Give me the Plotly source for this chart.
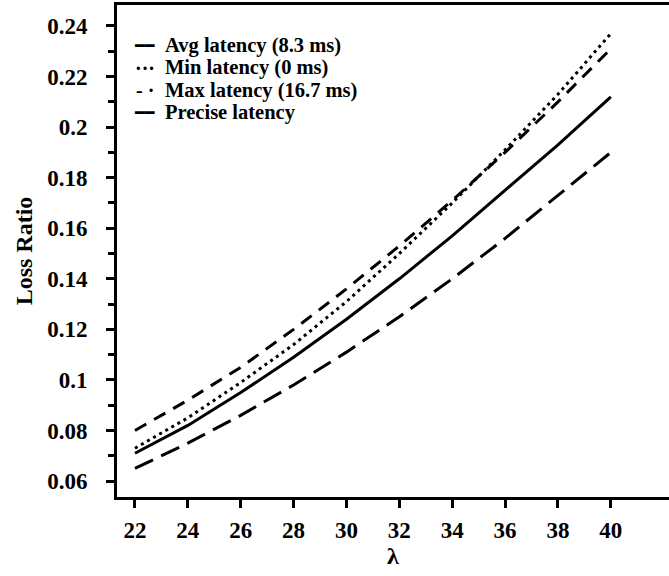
import plotly.graph_objects as go

lam = [22, 24, 26, 28, 30, 32, 34, 36, 38, 40]
avg_latency = [0.071, 0.082, 0.095, 0.109, 0.124, 0.140, 0.157, 0.175, 0.193, 0.212]
min_latency = [0.073, 0.085, 0.099, 0.114, 0.131, 0.150, 0.170, 0.191, 0.213, 0.237]
max_latency = [0.080, 0.092, 0.105, 0.120, 0.136, 0.153, 0.171, 0.190, 0.210, 0.231]
precise_latency = [0.065, 0.075, 0.086, 0.098, 0.111, 0.125, 0.140, 0.156, 0.173, 0.190]

names = ["Avg latency (8.3 ms)", "Min latency (0 ms)", "Max latency (16.7 ms)", "Precise latency"]
legend_marks = ["━━", "···", "- ·", "━━"]
series = [avg_latency, min_latency, max_latency, precise_latency]
dashes = ["solid", "3px,4px", "13px,9px", "20px,9px"]

FONT = "Liberation Serif"

fig = go.Figure()
for n, s, d in zip(names, series, dashes):
    fig.add_trace(go.Scatter(x=lam, y=s, name=n, mode="lines",
                             line=dict(color="black", width=3, dash=d)))

annotations = []
row_y = [0.917, 0.872, 0.827, 0.782]
for n, m, yy in zip(names, legend_marks, row_y):
    is_bar = m.startswith("━")
    annotations.append(dict(xref="paper", yref="paper", x=0.05, y=yy, xanchor="center", yanchor="middle",
                            text=m if is_bar else "<b>" + m + "</b>", showarrow=False,
                            font=dict(family="DejaVu Sans" if is_bar else FONT, size=16 if is_bar else 20, color="black")))
    annotations.append(dict(xref="paper", yref="paper", x=0.083, y=yy, xanchor="left", yanchor="middle",
                            text="<b>" + n + "</b>", showarrow=False,
                            font=dict(family=FONT, size=20.5, color="black")))

fig.update_layout(
    width=669, height=576,
    margin=dict(l=117, r=0, t=5, b=79),
    paper_bgcolor="white", plot_bgcolor="white",
    font=dict(family=FONT, size=20, color="black"),
    showlegend=False,
    annotations=annotations,
    xaxis=dict(range=[21.32, 42.2], tickvals=lam,
               showgrid=False, zeroline=False, showline=True, linecolor="black", linewidth=3,
               mirror=True, ticks="outside", ticklen=8, tickwidth=2.5, tickcolor="black",
               ticklabelstandoff=2,
               tickfont=dict(family=FONT, size=23, color="black", weight="bold"),
               title=dict(text="λ", font=dict(family=FONT, size=24, color="black", weight="bold"), standoff=6)),
    yaxis=dict(range=[0.0537, 0.2483], tickvals=[0.06, 0.08, 0.1, 0.12, 0.14, 0.16, 0.18, 0.2, 0.22, 0.24],
               ticktext=["0.06", "0.08", "0.1", "0.12", "0.14", "0.16", "0.18", "0.2", "0.22", "0.24"],
               showgrid=False, zeroline=False, showline=True, linecolor="black", linewidth=3,
               mirror=False, ticks="outside", ticklen=8, tickwidth=2.5, tickcolor="black",
               ticklabelstandoff=14,
               minor=dict(dtick=0.01, tick0=0.05, ticks="outside", ticklen=6, tickwidth=2.5, tickcolor="black"),
               tickfont=dict(family=FONT, size=23, color="black", weight="bold"),
               title=dict(text="Loss Ratio", font=dict(family=FONT, size=24, color="black", weight="bold"), standoff=8)),
)
fig.write_html("out.html")
